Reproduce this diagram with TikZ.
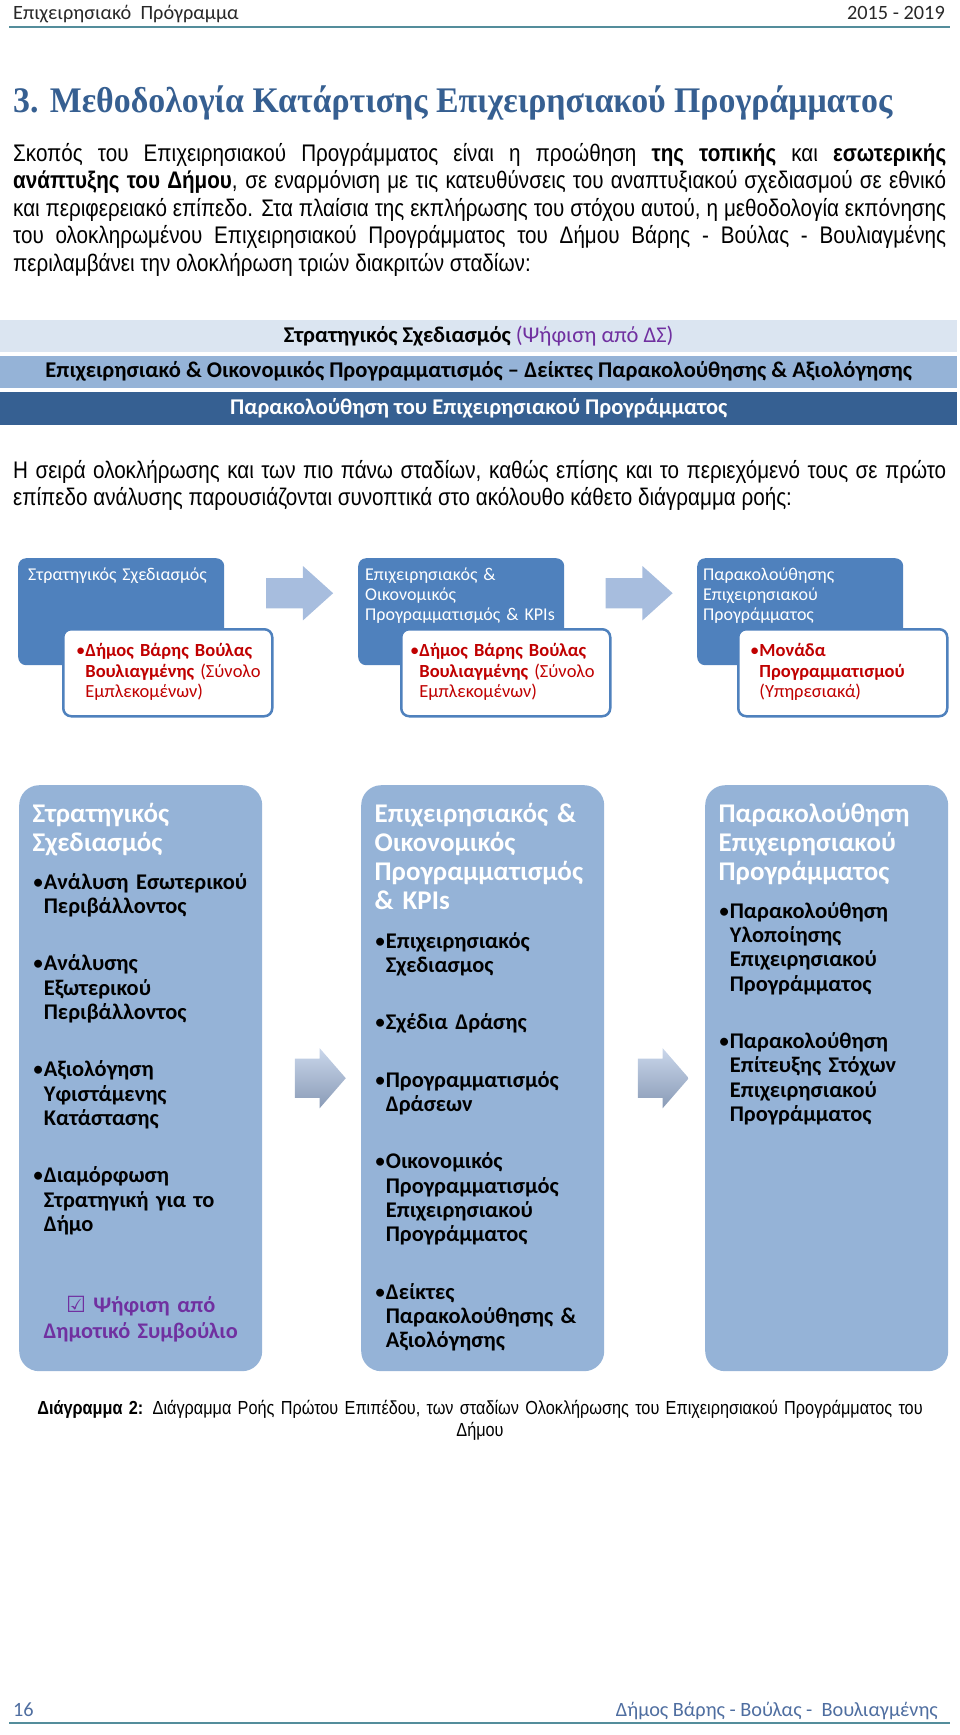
\documentclass[tikz,border=0pt]{standalone}
\usepackage{fontspec}
\setmainfont{Carlito}
\newfontfamily\narrowfont{Liberation Sans}[FakeStretch=0.86]
\newfontfamily\headfont{Liberation Serif}[FakeStretch=0.94]
\newfontfamily\symbfont{DejaVu Sans}
\usetikzlibrary{positioning,shapes.arrows,calc}

\definecolor{pagerule}{RGB}{84,141,155}
\definecolor{pagetext}{RGB}{40,40,40}
\definecolor{headblue}{RGB}{54,95,145}
\definecolor{footblue}{RGB}{79,110,160}
\definecolor{barlight}{RGB}{219,229,241}
\definecolor{barmid}{RGB}{149,179,215}
\definecolor{bardark}{RGB}{54,96,146}
\definecolor{votecol}{RGB}{112,48,160}
\definecolor{smartblue}{RGB}{79,129,189}
\definecolor{smartarrow}{RGB}{167,189,222}
\definecolor{stagefill}{RGB}{149,179,215}
\definecolor{actorred}{RGB}{192,0,0}

\newcommand{\bul}{{\mdseries\textbullet}}
\newcommand{\hng}{\hphantom{\mdseries\textbullet}}
\newcommand{\loosepar}{\tolerance=9999 \hyphenpenalty=10000 }

\tikzset{
  pagefont/.style={inner sep=0pt, font=\fontsize{20.3}{23}\selectfont},
  bodytext/.style={anchor=base west, inner sep=0pt, text width=933pt, align=justify,
    font=\narrowfont\fontsize{24}{27.6}\selectfont},
  bar/.style={anchor=north west, minimum width=957pt, minimum height=32pt, inner sep=0pt,
    font=\fontsize{22.5}{26}\selectfont},
  phase/.style={anchor=north west, fill=smartblue, rounded corners=8pt, minimum width=206pt,
    minimum height=107pt, inner sep=0pt},
  phasetitle/.style={anchor=base west, inner sep=0pt, text width=200pt, align=left, text=white,
    font=\fontsize{18}{20}\selectfont},
  actor/.style={anchor=north west, fill=white, draw=smartblue, line width=2.5pt, rounded corners=8pt,
    minimum width=209pt, minimum height=87pt, inner sep=0pt},
  actortext/.style={anchor=base west, inner sep=0pt, text width=200pt, align=left, text=actorred,
    font=\fontsize{18.5}{20.5}\selectfont},
  flowarrow/.style={single arrow, fill=smartarrow, draw=none, text height=15pt, text depth=15pt,
    minimum height=67pt, single arrow head extend=12pt, single arrow tip angle=84, inner sep=0pt},
  stage/.style={anchor=north west, fill=stagefill, rounded corners=20pt, minimum width=243pt,
    minimum height=586pt, inner sep=0pt},
  stagetitle/.style={anchor=base west, inner sep=0pt, text width=228pt, align=left, text=white,
    font=\fontsize{27}{29}\selectfont\bfseries},
  stagelist/.style={anchor=base west, inner sep=0pt, text width=228pt, align=left,
    font=\fontsize{22.4}{24.3}\selectfont\bfseries},
  bigarrow/.style={single arrow, top color=smartarrow!60!white, bottom color=smartarrow!82!black,
    draw=none, text height=19.5pt, text depth=19.5pt, minimum height=51pt,
    single arrow head extend=10.5pt, single arrow tip angle=98, inner sep=0pt}
}

\begin{document}
\begin{tikzpicture}[x=1pt,y=-1pt]
  \useasboundingbox (0,0) rectangle (960,1735);

  % header
  \node[pagefont, anchor=base west, text=pagetext] (hleft) at (13,19) {Επιχειρησιακό\ \ Πρόγραμμα};
  \node[pagefont, anchor=base east, text=pagetext] (hright) at (945,19) {2015 - 2019};
  \draw[pagerule, line width=1.3pt] (9,27) -- (950,27);

  % title
  \node[anchor=base west, inner sep=0pt, text=headblue, font=\headfont\fontsize{36}{40}\selectfont\bfseries]
    (title) at (13,112) {3. Μεθοδολογία Κατάρτισης Επιχειρησιακού Προγράμματος};

  % intro text
  \node[bodytext] (intro) at (13,161) {\loosepar Σκοπός του Επιχειρησιακού Προγράμματος είναι η προώθηση
    \textbf{της τοπικής} και \textbf{εσωτερικής}\linebreak
    \textbf{ανάπτυξης του Δήμου}, σε εναρμόνιση με τις κατευθύνσεις του αναπτυξιακού σχεδιασμού σε εθνικό\linebreak
    και περιφερειακό επίπεδο. Στα πλαίσια της εκπλήρωσης του στόχου αυτού, η μεθοδολογία εκπόνησης\linebreak
    του ολοκληρωμένου Επιχειρησιακού Προγράμματος του Δήμου Βάρης - Βούλας - Βουλιαγμένης\linebreak
    περιλαμβάνει την ολοκλήρωση τριών διακριτών σταδίων:};

  % the three bars
  \node[bar, fill=barlight] (bar1) at (0,320)
    {\textbf{Στρατηγικός Σχεδιασμός} \textcolor{votecol}{(Ψήφιση από ΔΣ)}};
  \node[bar, fill=barmid, below=3pt of bar1] (bar2)
    {\textbf{Επιχειρησιακό \& Οικονομικός Προγραμματισμός – Δείκτες Παρακολούθησης \& Αξιολόγησης}};
  \node[bar, fill=bardark, text=white, minimum height=33pt, below=4pt of bar2] (bar3)
    {\textbf{Παρακολούθηση του Επιχειρησιακού Προγράμματος}};

  \node[bodytext] (order) at (13,478) {\loosepar Η σειρά ολοκλήρωσης και των πιο πάνω σταδίων, καθώς επίσης
    και το περιεχόμενό τους σε πρώτο\linebreak
    επίπεδο ανάλυσης παρουσιάζονται συνοπτικά στο ακόλουθο κάθετο διάγραμμα ροής:};

  % small flow
  \node[phase] (pA) at (18,558) {};
  \node[phase] (pB) at (358,558) {};
  \node[phase] (pC) at (697,558) {};
  \node[phasetitle] (pAt) at (28,580) {Στρατηγικός Σχεδιασμός};
  \node[phasetitle] (pBt) at (365,580) {Επιχειρησιακός \&\\ Οικονομικός\\ Προγραμματισμός \& KPIs};
  \node[phasetitle] (pCt) at (703,580) {Παρακολούθησης\\ Επιχειρησιακού\\ Προγράμματος};
  \node[actor] (aA) at (62,628) {};
  \node[actor] (aB) at (400,628) {};
  \node[actor] (aC) at (737,628) {};
  \node[actortext] (aAt) at (76,656.5)
    {\textbf{\bul Δήμος Βάρης Βούλας}\\ \textbf{\hng Βουλιαγμένης} (Σύνολο\\ \hng Εμπλεκομένων)};
  \node[actortext] (aBt) at (410,656.5)
    {\textbf{\bul Δήμος Βάρης Βούλας}\\ \textbf{\hng Βουλιαγμένης} (Σύνολο\\ \hng Εμπλεκομένων)};
  \node[actortext] (aCt) at (750,656.5)
    {\textbf{\bul Μονάδα}\\ \textbf{\hng Προγραμματισμού}\\ \hng (Υπηρεσιακά)};
  \node[flowarrow, yshift=18.5pt] (fAB) at ($(pA.east)!0.5!(pB.west)$) {};
  \node[flowarrow, yshift=18.5pt] (fBC) at ($(pB.east)!0.5!(pC.west)$) {};

  % big flow
  \node[stage] (s1) at (19,785) {};
  \node[stage] (s2) at (361,785) {};
  \node[stage] (s3) at (705,785) {};
  \node[bigarrow] (g12) at ($(s1.east)!0.5!(s2.west)$) {};
  \node[bigarrow] (g23) at ($(s2.east)!0.5!(s3.west)$) {};

  \node[stagetitle] (s1t) at ($(s1.north west)+(13.5,37.5)$) {Στρατηγικός\\ Σχεδιασμός};
  \node[stagelist] (s1l) at ($(s1.north west)+(13.5,104.3)$) {\bul Ανάλυση Εσωτερικού\\
    \hng Περιβάλλοντος\\[33pt]
    \bul Ανάλυσης\\ \hng Εξωτερικού\\ \hng Περιβάλλοντος\\[33pt]
    \bul Αξιολόγηση\\ \hng Υφιστάμενης\\ \hng Κατάστασης\\[33pt]
    \bul Διαμόρφωση\\ \hng Στρατηγική για το\\ \hng Δήμο};
  \node[anchor=base, inner sep=0pt, text width=243pt, align=center, text=votecol,
    font=\fontsize{22.3}{26}\selectfont\bfseries] (s1v) at ($(s1.north)+(0,527.3)$)
    {{\symbfont ☑} Ψήφιση από\\ Δημοτικό Συμβούλιο};

  \node[stagetitle] (s2t) at ($(s2.north west)+(13.5,37.5)$)
    {Επιχειρησιακός \&\\ Οικονομικός\\ Προγραμματισμός\\ \& KPIs};
  \node[stagelist] (s2l) at ($(s2.north west)+(13.5,163.3)$) {\bul Επιχειρησιακός\\
    \hng Σχεδιασμος\\[33pt]
    \bul Σχέδια Δράσης\\[33pt]
    \bul Προγραμματισμός\\ \hng Δράσεων\\[33pt]
    \bul Οικονομικός\\ \hng Προγραμματισμός\\ \hng Επιχειρησιακού\\ \hng Προγράμματος\\[33pt]
    \bul Δείκτες\\ \hng Παρακολούθησης \&\\ \hng Αξιολόγησης};

  \node[stagetitle] (s3t) at ($(s3.north west)+(13.5,37.5)$)
    {Παρακολούθηση\\ Επιχειρησιακού\\ Προγράμματος};
  \node[stagelist] (s3l) at ($(s3.north west)+(13.5,133.3)$) {\bul Παρακολούθηση\\
    \hng Υλοποίησης\\ \hng Επιχειρησιακού\\ \hng Προγράμματος\\[33pt]
    \bul Παρακολούθηση\\ \hng Επίτευξης Στόχων\\ \hng Επιχειρησιακού\\ \hng Προγράμματος};

  % caption
  \node[anchor=base, inner sep=0pt, text width=940pt, align=center,
    font=\narrowfont\fontsize{18.9}{22}\selectfont] (caption) at (480,1414)
    {\textbf{Διάγραμμα 2:} Διάγραμμα Ροής Πρώτου Επιπέδου, των σταδίων Ολοκλήρωσης του
     Επιχειρησιακού Προγράμματος του\\ Δήμου};

  % footer
  \node[pagefont, anchor=base west, text=footblue] (fpage) at (13,1716) {16};
  \node[pagefont, anchor=base east, text=footblue] (fright) at (938,1716)
    {Δήμος Βάρης - Βούλας -\ \ Βουλιαγμένης};
  \draw[pagerule, line width=1.3pt] (9,1723) -- (950,1723);
\end{tikzpicture}
\end{document}
